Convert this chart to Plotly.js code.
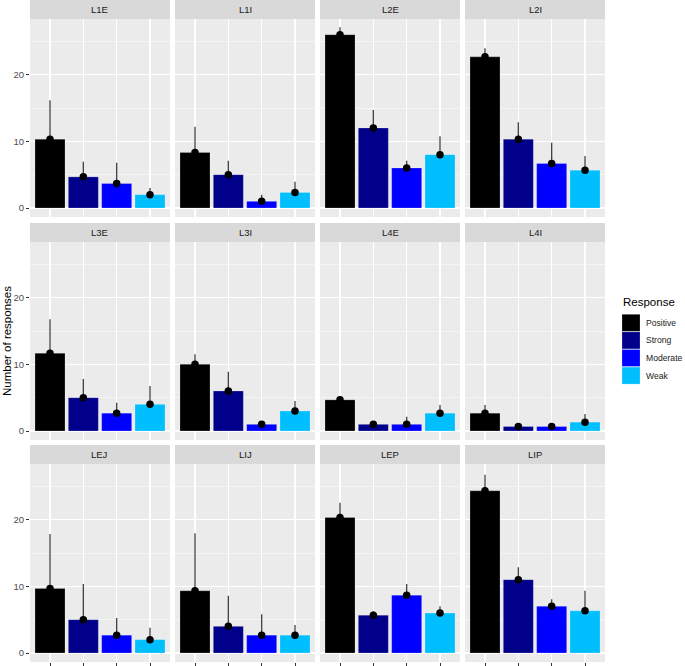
<!DOCTYPE html>
<html>
<head>
<meta charset="utf-8">
<script src="https://cdn.plot.ly/plotly-3.0.1.min.js"></script>
<style>html,body{margin:0;padding:0;background:#fff}#chart{width:685px;height:666px}</style>
</head>
<body>
<div id="chart"></div>
<script>
// ---- data ----
const panels = ['L1E','L1I','L2E','L2I','L3E','L3I','L4E','L4I','LEJ','LIJ','LEP','LIP'];
const responses = ['Positive','Strong','Moderate','Weak'];
const responseColors = ['#000000','#00008B','#0000FF','#00BFFF'];
const positive = [10.33, 8.33, 26.0, 22.67, 11.67, 10.0, 4.67, 2.67, 9.67, 9.33, 20.33, 24.33];
const strong   = [4.67, 5.0, 12.0, 10.33, 5.0, 6.0, 1.0, 0.67, 5.0, 4.0, 5.67, 11.0];
const moderate = [3.67, 1.0, 6.0, 6.67, 2.67, 1.0, 1.0, 0.67, 2.67, 2.67, 8.67, 7.0];
const weak     = [2.0, 2.33, 8.0, 5.67, 4.0, 3.0, 2.67, 1.33, 2.0, 2.67, 6.0, 6.33];
const positiveUpper = [16.15, 12.2, 27.1, 23.95, 16.75, 11.5, 5.15, 3.9, 17.85, 17.95, 22.55, 26.75];
const strongUpper   = [6.95, 7.1, 14.7, 12.85, 7.8, 8.9, 1.1, 0.75, 10.35, 8.6, 6.25, 12.85];
const moderateUpper = [6.8, 2.0, 7.1, 9.8, 4.25, 1.2, 2.15, 0.75, 5.25, 5.8, 10.35, 8.05];
const weakUpper     = [3.0, 3.95, 10.75, 7.8, 6.75, 4.5, 3.9, 2.55, 3.8, 4.2, 7.0, 9.35];
const yTicks = [0, 10, 20];
const yTickLabels = ['0', '10', '20'];

// ---- layout geometry (pixels) ----
const W = 685, H = 666;
const colX = [[30,170],[175,315],[320,460],[465,605]];
const rowY = [[19,217],[242,440],[464,662]];
const stripY = [[0,19],[223,242],[445,464]];
const X = p => p / W;
const Y = p => 1 - p / H;

const means = [positive, strong, moderate, weak];
const uppers = [positiveUpper, strongUpper, moderateUpper, weakUpper];
const cats = responses.map((r, j) => j + 1);

const traces = [];
const layout = {
  width: W, height: H,
  margin: {l:0, r:0, t:0, b:0},
  paper_bgcolor: '#ffffff',
  plot_bgcolor: '#EBEBEB',
  showlegend: false,
  font: {family: 'Liberation Sans, Arial, sans-serif', color: '#1a1a1a'},
  shapes: [], annotations: []
};

panels.forEach((name, i) => {
  const r = Math.floor(i / 4), c = i % 4;
  const n = i + 1;
  const xa = 'x' + (n === 1 ? '' : n), ya = 'y' + (n === 1 ? '' : n);
  const vals = means.map(arr => arr[i]);
  const ups = uppers.map(arr => arr[i]);
  traces.push({
    type: 'bar', x: cats, y: vals, width: 0.9, xaxis: xa, yaxis: ya,
    marker: {color: responseColors, line: {color: 'rgba(255,255,255,0.35)', width: 0.6}},
    hoverinfo: 'skip'
  });
  traces.push({
    type: 'scatter', mode: 'markers', x: cats, y: vals, xaxis: xa, yaxis: ya,
    marker: {color: '#000000', size: 7.5},
    error_y: {type: 'data', symmetric: false, array: ups.map((u, k) => Math.max(0, u - vals[k])),
              arrayminus: vals.map(() => 0), width: 0, thickness: 1.3, color: '#404040'},
    hoverinfo: 'skip'
  });
  layout['xaxis' + (n === 1 ? '' : n)] = {
    domain: [X(colX[c][0]), X(colX[c][1])], anchor: ya, range: [0.4, 4.6],
    tickvals: cats, showticklabels: false,
    ticks: r === 2 ? 'outside' : '', ticklen: 3, tickcolor: '#333333', tickwidth: 1,
    showgrid: true, gridcolor: '#ffffff', gridwidth: 1.1, zeroline: false, showline: false, fixedrange: true
  };
  layout['yaxis' + (n === 1 ? '' : n)] = {
    domain: [Y(rowY[r][1]), Y(rowY[r][0])], anchor: xa, range: [-1.35, 28.35],
    tickvals: yTicks, ticktext: yTickLabels, showticklabels: c === 0,
    ticks: c === 0 ? 'outside' : '', ticklen: 3, tickcolor: '#333333', tickwidth: 1,
    tickfont: {size: 9.5, color: '#4d4d4d'},
    showgrid: true, gridcolor: '#ffffff', gridwidth: 1.1, zeroline: false, showline: false,
    minor: {tickvals: [5, 15, 25], showgrid: true, gridcolor: '#ffffff', gridwidth: 0.5, ticks: ''},
    fixedrange: true
  };
  layout.shapes.push({type: 'rect', xref: 'paper', yref: 'paper',
    x0: X(colX[c][0]), x1: X(colX[c][1]), y0: Y(stripY[r][1]), y1: Y(stripY[r][0]),
    fillcolor: '#D9D9D9', line: {width: 0}, layer: 'below'});
  layout.annotations.push({xref: 'paper', yref: 'paper',
    x: X((colX[c][0] + colX[c][1]) / 2), y: Y((stripY[r][0] + stripY[r][1]) / 2),
    text: name, showarrow: false, xanchor: 'center', yanchor: 'middle',
    font: {size: 9.5, color: '#1a1a1a'}});
});

// y axis title
layout.annotations.push({xref: 'paper', yref: 'paper', x: X(7), y: Y(341),
  text: 'Number of responses', textangle: -90, showarrow: false,
  xanchor: 'center', yanchor: 'middle', font: {size: 11.5, color: '#000000'}});

// legend (drawn manually, ggplot style)
layout.annotations.push({xref: 'paper', yref: 'paper', x: X(621), y: Y(302),
  text: 'Response', showarrow: false, xanchor: 'left', yanchor: 'middle',
  font: {size: 11.5, color: '#000000'}});
const keyTop = 314, keyH = 17.6;
responses.forEach((resp, j) => {
  const y0 = keyTop + j * keyH;
  layout.shapes.push({type: 'rect', xref: 'paper', yref: 'paper',
    x0: X(622), x1: X(640), y0: Y(y0 + keyH - 0.3), y1: Y(y0 + 0.3),
    fillcolor: responseColors[j], line: {color: 'rgba(255,255,255,0.35)', width: 0.6}});
  layout.annotations.push({xref: 'paper', yref: 'paper', x: X(644), y: Y(y0 + keyH / 2),
    text: resp, showarrow: false, xanchor: 'left', yanchor: 'middle',
    font: {size: 8.6, color: '#1a1a1a'}});
});

Plotly.newPlot('chart', traces, layout, {staticPlot: true, displayModeBar: false});
</script>
</body>
</html>
